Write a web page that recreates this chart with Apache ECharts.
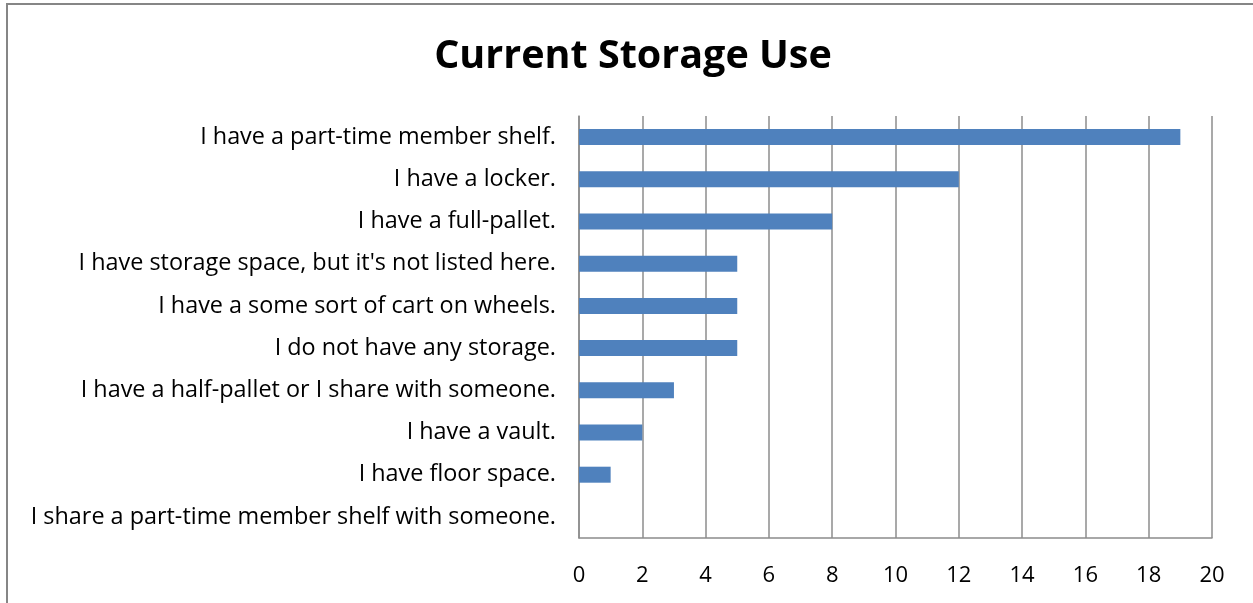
<!DOCTYPE html>
<html>
<head>
<meta charset="utf-8">
<script src="https://cdn.jsdelivr.net/npm/echarts@6/dist/echarts.min.js"></script>
<style>
html, body { margin: 0; padding: 0; background: #fff; }
#frame { position: absolute; left: 6px; top: 3px; width: 1253px; height: 603px; border-left: 2px solid #868686; border-top: 2px solid #868686; }
#main { position: absolute; left: 0; top: 0; width: 1253px; height: 603px; }
</style>
</head>
<body>
<div id="frame"></div>
<div id="main"></div>
<script>
// 类别（从上到下）
var categories = [
    "I have a part-time member shelf.",
    "I have a locker.",
    "I have a full-pallet.",
    "I have storage space, but it's not listed here.",
    "I have a some sort of cart on wheels.",
    "I do not have any storage.",
    "I have a half-pallet or I share with someone.",
    "I have a vault.",
    "I have floor space.",
    "I share a part-time member shelf with someone."
];
var counts = [19, 12, 8, 5, 5, 5, 3, 2, 1, 0];
var titleText = "Current Storage Use";

var myChart = echarts.init(document.getElementById('main'));
var option = {
    backgroundColor: 'transparent',
    title: {
        text: titleText,
        left: 628,
        textAlign: 'center',
        top: 32,
        textStyle: { fontFamily: 'Open Sans', fontSize: 39.5, fontWeight: 'bold', color: '#000' }
    },
    grid: { left: 579, right: 41, top: 116, bottom: 65 },
    xAxis: {
        type: 'value',
        min: 0,
        max: 20,
        interval: 2,
        axisLine: { show: true, lineStyle: { color: '#8c8c8c', width: 1.5 } },
        axisTick: { show: false },
        axisLabel: { fontFamily: 'Open Sans', fontSize: 22, color: '#000', margin: 27 },
        splitLine: { show: true, lineStyle: { color: '#8c8c8c', width: 1.5 } }
    },
    yAxis: {
        type: 'category',
        inverse: true,
        data: categories,
        axisLine: { show: true, lineStyle: { color: '#8c8c8c', width: 1.5 } },
        axisTick: { show: false },
        axisLabel: { fontFamily: 'Open Sans', fontSize: 23.4, color: '#000', margin: 23 }
    },
    series: [{
        type: 'bar',
        data: counts,
        barWidth: 16,
        itemStyle: { color: '#4F81BD' },
        silent: true
    }],
    animation: false
};
myChart.setOption(option);
</script>
</body>
</html>
